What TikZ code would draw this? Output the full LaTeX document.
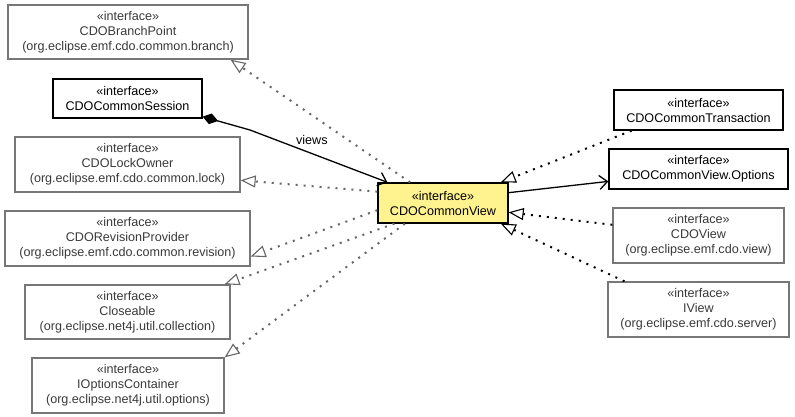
\documentclass[tikz,border=0pt]{standalone}
\usepackage{fontspec}
\setmainfont{Liberation Sans}
\usetikzlibrary{arrows.meta,calc}
\definecolor{gline}{HTML}{777777}
\definecolor{gdot}{HTML}{666666}
\definecolor{gtext}{HTML}{3A3A3A}
\definecolor{vfill}{HTML}{FFF38F}
\tikzset{
  base/.style={rectangle, align=center, inner sep=0pt, font=\fontsize{12.6}{15}\selectfont},
  gbox/.style={base, draw=gline, line width=1.3pt, text=gtext, fill=white},
  kbox/.style={base, draw=black, line width=1.3pt, text=black, fill=white},
  vbox/.style={base, draw=black, line width=1.3pt, text=black, fill=vfill},
  realg/.style={draw=gdot, line width=2pt, dash pattern=on 2pt off 6pt,
    -{Triangle[open, length=15pt, width=12pt, line width=1.1pt, fill=white]}},
  realk/.style={draw=black, line width=2pt, dash pattern=on 2pt off 6pt,
    -{Triangle[open, length=15pt, width=12pt, line width=1.1pt, fill=white]}},
  assoc/.style={draw=black, line width=1.3pt, -{Straight Barb[length=8pt, width=14pt, line width=1.3pt]}},
}
\begin{document}
\begin{tikzpicture}[x=1pt, y=-1pt]
\useasboundingbox (0,0) rectangle (795,417);
% left column
\node[gbox, minimum width=240pt, minimum height=54pt] (bp) at (128,32) {«interface»\\CDOBranchPoint\\(org.eclipse.emf.cdo.common.branch)};
\node[kbox, minimum width=149pt, minimum height=39pt] (sess) at (127.5,98.5) {«interface»\\CDOCommonSession};
\node[gbox, minimum width=225pt, minimum height=55pt] (lock) at (127.5,164.5) {«interface»\\CDOLockOwner\\(org.eclipse.emf.cdo.common.lock)};
\node[gbox, minimum width=245pt, minimum height=55pt] (rev) at (127.5,238.5) {«interface»\\CDORevisionProvider\\(org.eclipse.emf.cdo.common.revision)};
\node[gbox, minimum width=205pt, minimum height=54pt] (close) at (127.5,312) {«interface»\\Closeable\\(org.eclipse.net4j.util.collection)};
\node[gbox, minimum width=192pt, minimum height=55pt] (opt) at (128,385.5) {«interface»\\IOptionsContainer\\(org.eclipse.net4j.util.options)};
% center
\node[vbox, minimum width=130pt, minimum height=40pt] (view) at (443,203) {«interface»\\CDOCommonView};
% right column
\node[kbox, minimum width=169pt, minimum height=40pt] (trans) at (698.5,110) {«interface»\\CDOCommonTransaction};
\node[kbox, minimum width=179pt, minimum height=40pt] (vopt) at (698.5,169) {«interface»\\CDOCommonView.Options};
\node[gbox, minimum width=171pt, minimum height=55pt] (cview) at (698.5,235.5) {«interface»\\CDOView\\(org.eclipse.emf.cdo.view)};
\node[gbox, minimum width=181pt, minimum height=55pt] (iview) at (698.5,309.5) {«interface»\\IView\\(org.eclipse.emf.cdo.server)};

% realizations to gray (external) interfaces
\draw[realg] ($(view.north west)!0.25!(view.north east)$) -- ($(bp.south west)!0.925!(bp.south east)$);
\draw[realg] ($(view.north west)!0.225!(view.south west)$) -- ($(lock.north east)!0.78!(lock.south east)$);
\draw[realg] ($(view.north west)!0.675!(view.south west)$) -- ($(rev.north east)!0.82!(rev.south east)$);
\draw[realg] ($(view.south west)!0.13!(view.south east)$) -- ($(close.north west)!0.97!(close.north east)$);
\draw[realg] ($(view.south west)!0.21!(view.south east)$) -- (opt.north east);
% realizations on the right
\draw[realk] ($(trans.south west)!0.107!(trans.south east)$) -- ($(view.north west)!0.94!(view.north east)$);
\draw[realk] ($(cview.north west)!0.31!(cview.south west)$) -- ($(view.north east)!0.725!(view.south east)$);
\draw[realk] ($(iview.north west)!0.094!(iview.north east)$) -- ($(view.south west)!0.94!(view.south east)$);
% associations
\coordinate (bend) at (250,130);
\draw[assoc, {Diamond[length=16pt, width=11pt, fill=black]}-{Straight Barb[length=8pt, width=14pt, line width=1.3pt]}]
  ($(sess.north east)!0.95!(sess.south east)$) -- (bend)
  -- node[pos=0.45, above=5pt, font=\fontsize{12.6}{15}\selectfont] (lbl) {views}
  ($(view.north west)!0.077!(view.north east)$);
\draw[assoc] ($(view.north east)!0.25!(view.south east)$) -- ($(vopt.north west)!0.8!(vopt.south west)$);
\end{tikzpicture}
\end{document}
